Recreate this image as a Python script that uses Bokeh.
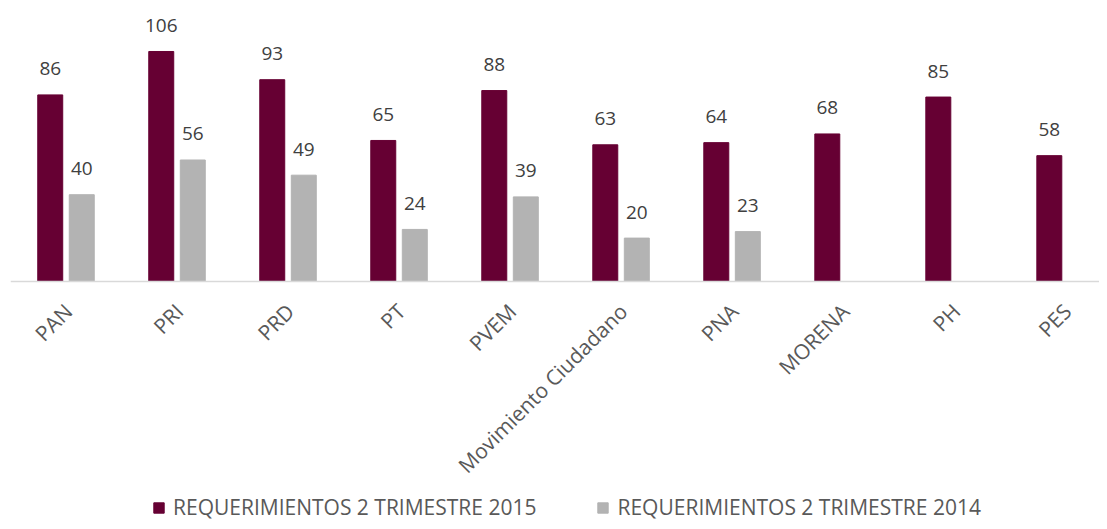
import math
import numpy as np
from bokeh.plotting import figure
from bokeh.models import Range1d, FixedTicker, ColumnDataSource, Legend, LegendItem
from bokeh.transform import dodge
from bokeh.embed import file_html
from bokeh.resources import INLINE
from bokeh.core.properties import value

categories = ["PAN", "PRI", "PRD", "PT", "PVEM", "Movimiento Ciudadano",
              "PNA", "MORENA", "PH", "PES"]
req_2015 = [86, 106, 93, 65, 88, 63, 64, 68, 85, 58]
req_2014 = [40, 56, 49, 24, 39, 20, 23, None, None, None]
series_names = ["REQUERIMIENTOS 2 TRIMESTRE 2015", "REQUERIMIENTOS 2 TRIMESTRE 2014"]

FONT = "Open Sans"
MAROON = "#660033"
GRAY = "#B3B3B3"

pos = np.arange(len(categories)) + 0.5

src15 = ColumnDataSource(dict(x=pos, top=req_2015, lbl=[str(v) for v in req_2015]))
idx14 = [i for i, v in enumerate(req_2014) if v is not None]
src14 = ColumnDataSource(dict(x=pos[idx14], top=[req_2014[i] for i in idx14],
                              lbl=[str(req_2014[i]) for i in idx14]))

p = figure(width=1099, height=521, output_backend="svg", toolbar_location=None,
           x_range=Range1d(0, 9.81), y_range=Range1d(-110.6, 129.5),
           min_border_left=10, min_border_right=0, min_border_top=0, min_border_bottom=0)
p.outline_line_color = None
p.grid.visible = False
p.yaxis.visible = False

off = 0.142
bw = 0.225
r15 = p.vbar(x=dodge("x", -off, range=p.x_range), top="top", width=bw, bottom=0,
             source=src15, fill_color=MAROON, line_color=MAROON)
r14 = p.vbar(x=dodge("x", off, range=p.x_range), top="top", width=bw, bottom=0,
             source=src14, fill_color=GRAY, line_color=GRAY)

for src, o in ((src15, -off), (src14, off)):
    p.text(x=dodge("x", o, range=p.x_range), y="top", text="lbl", source=src,
           text_font=value(FONT), text_font_size="19px", text_color="#404040",
           text_align="center", text_baseline="alphabetic", y_offset=-26)

ax = p.xaxis[0]
ax.fixed_location = 0
tick_pos = [float(x) + 0.02 for x in pos]
ax.ticker = FixedTicker(ticks=tick_pos)
ax.major_label_overrides = {t: c for t, c in zip(tick_pos, categories)}
ax.major_label_orientation = math.pi / 4
ax.major_label_text_font = FONT
ax.major_label_text_font_size = "21px"
ax.major_label_text_color = "#595959"
ax.major_tick_line_color = None
ax.minor_tick_line_color = None
ax.axis_line_color = "#D9D9D9"
ax.axis_line_width = 1.5
ax.major_label_standoff = 20

legend = Legend(items=[LegendItem(label=series_names[0], renderers=[r15]),
                       LegendItem(label=series_names[1], renderers=[r14])],
                location=(142, 0), orientation="horizontal",
                glyph_width=13, glyph_height=13, label_standoff=8, spacing=60,
                padding=0, margin=0, border_line_color=None, background_fill_alpha=0,
                label_text_font=FONT, label_text_font_size="21px",
                label_text_color="#595959")
p.add_layout(legend, "center")

open("out.html", "w").write(file_html(p, INLINE))
